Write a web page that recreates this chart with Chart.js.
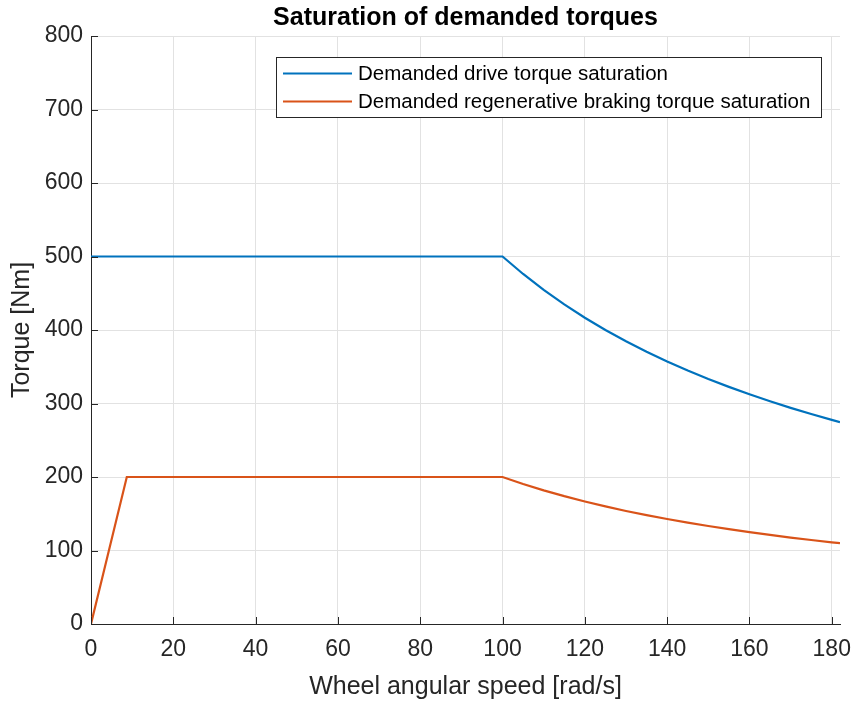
<!DOCTYPE html>
<html>
<head>
<meta charset="utf-8">
<script src="https://cdn.jsdelivr.net/npm/chart.js@4/dist/chart.umd.min.js"></script>
<style>
    html, body { margin: 0; padding: 0; background: #fff; }
    #wrap { width: 851px; height: 701px; }
</style>
</head>
<body>
<div id="wrap"><canvas id="torqueChart"></canvas></div>
<script>
// values
var chartTitle = 'Saturation of demanded torques';
var seriesNames = ['Demanded drive torque saturation', 'Demanded regenerative braking torque saturation'];

var driveSpeed  = [0, 100, 105, 110, 115, 120, 125, 130, 135, 140, 145, 150, 155, 160, 165, 170, 175, 180, 182];
var driveTorque = [500, 500, 476.2, 454.5, 434.8, 416.7, 400, 384.6, 370.4, 357.1, 344.8, 333.3, 322.6, 312.5, 303.0, 294.1, 285.7, 277.8, 274.7];

var regenSpeed  = [0, 8.7, 100, 105, 110, 115, 120, 125, 130, 135, 140, 145, 150, 155, 160, 165, 170, 175, 180, 182];
var regenTorque = [0, 200, 200, 190.5, 181.8, 173.9, 166.7, 160, 153.8, 148.1, 142.9, 137.9, 133.3, 129.0, 125.0, 121.2, 117.6, 114.3, 111.1, 109.9];

var xTicks = [0, 20, 40, 60, 80, 100, 120, 140, 160, 180];
var yTicks = [0, 100, 200, 300, 400, 500, 600, 700, 800];

var FONT = '"Liberation Sans", Arial, Helvetica, sans-serif';
var AXIS_COLOR = '#262626';
var GRID_COLOR = '#e2e2e2';

function toPoints(xs, ys) {
    return xs.map(function(x, i) { return { x: x, y: ys[i] }; });
}

// MATLAB style: title centred over the axes, inward tick marks, legend box inside the axes
var matlabDecor = {
    id: 'matlabDecor',
    afterDraw: function(chart) {
        var c = chart.ctx;
        var xs = chart.scales.x, ys = chart.scales.y;
        var area = chart.chartArea;
        c.save();

        // title
        c.font = 'bold 25px ' + FONT;
        c.fillStyle = '#000';
        c.textAlign = 'center';
        c.textBaseline = 'middle';
        c.fillText(chartTitle, (area.left + area.right) / 2, 18);

        // ticks
        c.strokeStyle = AXIS_COLOR;
        c.lineWidth = 1;
        c.beginPath();
        xTicks.forEach(function(v) {
            var px = Math.round(xs.getPixelForValue(v)) + 0.5;
            c.moveTo(px, area.bottom);
            c.lineTo(px, area.bottom - 7);
        });
        yTicks.forEach(function(v) {
            var py = Math.round(ys.getPixelForValue(v)) + 0.5;
            c.moveTo(area.left, py);
            c.lineTo(area.left + 7, py);
        });
        c.stroke();

        // legend
        var box = { left: 276.5, top: 57.5, width: 545, height: 60 };
        c.fillStyle = '#fff';
        c.fillRect(box.left, box.top, box.width, box.height);
        c.strokeStyle = AXIS_COLOR;
        c.strokeRect(box.left, box.top, box.width, box.height);
        c.font = '20.5px ' + FONT;
        c.textBaseline = 'middle';
        c.textAlign = 'left';
        chart.data.datasets.forEach(function(ds, i) {
            var cy = box.top + 16 + i * 28;
            c.strokeStyle = ds.borderColor;
            c.lineWidth = 2;
            c.beginPath();
            c.moveTo(283, cy);
            c.lineTo(352, cy);
            c.stroke();
            c.fillStyle = '#000';
            c.fillText(ds.label, 358, cy + 1);
        });
        c.restore();
    }
};

var ctx = document.getElementById('torqueChart');
new Chart(ctx, {
    type: 'line',
    data: {
        datasets: [{
            label: seriesNames[0],
            data: toPoints(driveSpeed, driveTorque),
            borderColor: '#0072BD',
            borderWidth: 2.2,
            pointRadius: 0,
            tension: 0,
            fill: false
        }, {
            label: seriesNames[1],
            data: toPoints(regenSpeed, regenTorque),
            borderColor: '#D95319',
            borderWidth: 2.2,
            pointRadius: 0,
            tension: 0,
            fill: false
        }]
    },
    plugins: [matlabDecor],
    options: {
        responsive: true,
        maintainAspectRatio: false,
        animation: false,
        layout: { padding: { left: 0, right: 0, top: 36, bottom: 0 } },
        plugins: {
            legend: { display: false },
            tooltip: { enabled: false },
            title: { display: false }
        },
        scales: {
            x: {
                type: 'linear',
                min: 0,
                max: 182,
                afterFit: function(scale) {
                    scale.height = 77;
                    // plot box ends 11px from the right edge, as in the figure
                    scale.paddingLeft = 0;
                    scale.paddingRight = 11;
                },
                afterBuildTicks: function(scale) {
                    scale.ticks = xTicks.map(function(v) { return { value: v }; });
                },
                ticks: {
                    color: AXIS_COLOR,
                    font: { family: FONT, size: 23 },
                    padding: 12,
                    maxRotation: 0,
                    autoSkip: false
                },
                grid: { color: GRID_COLOR, drawTicks: false },
                border: { color: AXIS_COLOR, width: 1 },
                title: {
                    display: true,
                    text: 'Wheel angular speed [rad/s]',
                    color: AXIS_COLOR,
                    font: { family: FONT, size: 25, lineHeight: 1.1 },
                    padding: { top: 0, bottom: 0 }
                }
            },
            y: {
                min: 0,
                max: 800,
                afterFit: function(scale) {
                    scale.width = 91;
                    scale.paddingTop = 0;
                    scale.paddingBottom = 0;
                },
                afterBuildTicks: function(scale) {
                    scale.ticks = yTicks.map(function(v) { return { value: v }; });
                },
                ticks: {
                    color: AXIS_COLOR,
                    font: { family: FONT, size: 23 },
                    padding: 8
                },
                grid: { color: GRID_COLOR, drawTicks: false },
                border: { color: AXIS_COLOR, width: 1 },
                title: {
                    display: true,
                    text: 'Torque [Nm]',
                    color: AXIS_COLOR,
                    font: { family: FONT, size: 25 },
                    padding: { top: 7, bottom: 0 }
                }
            }
        }
    }
});
</script>
</body>
</html>
